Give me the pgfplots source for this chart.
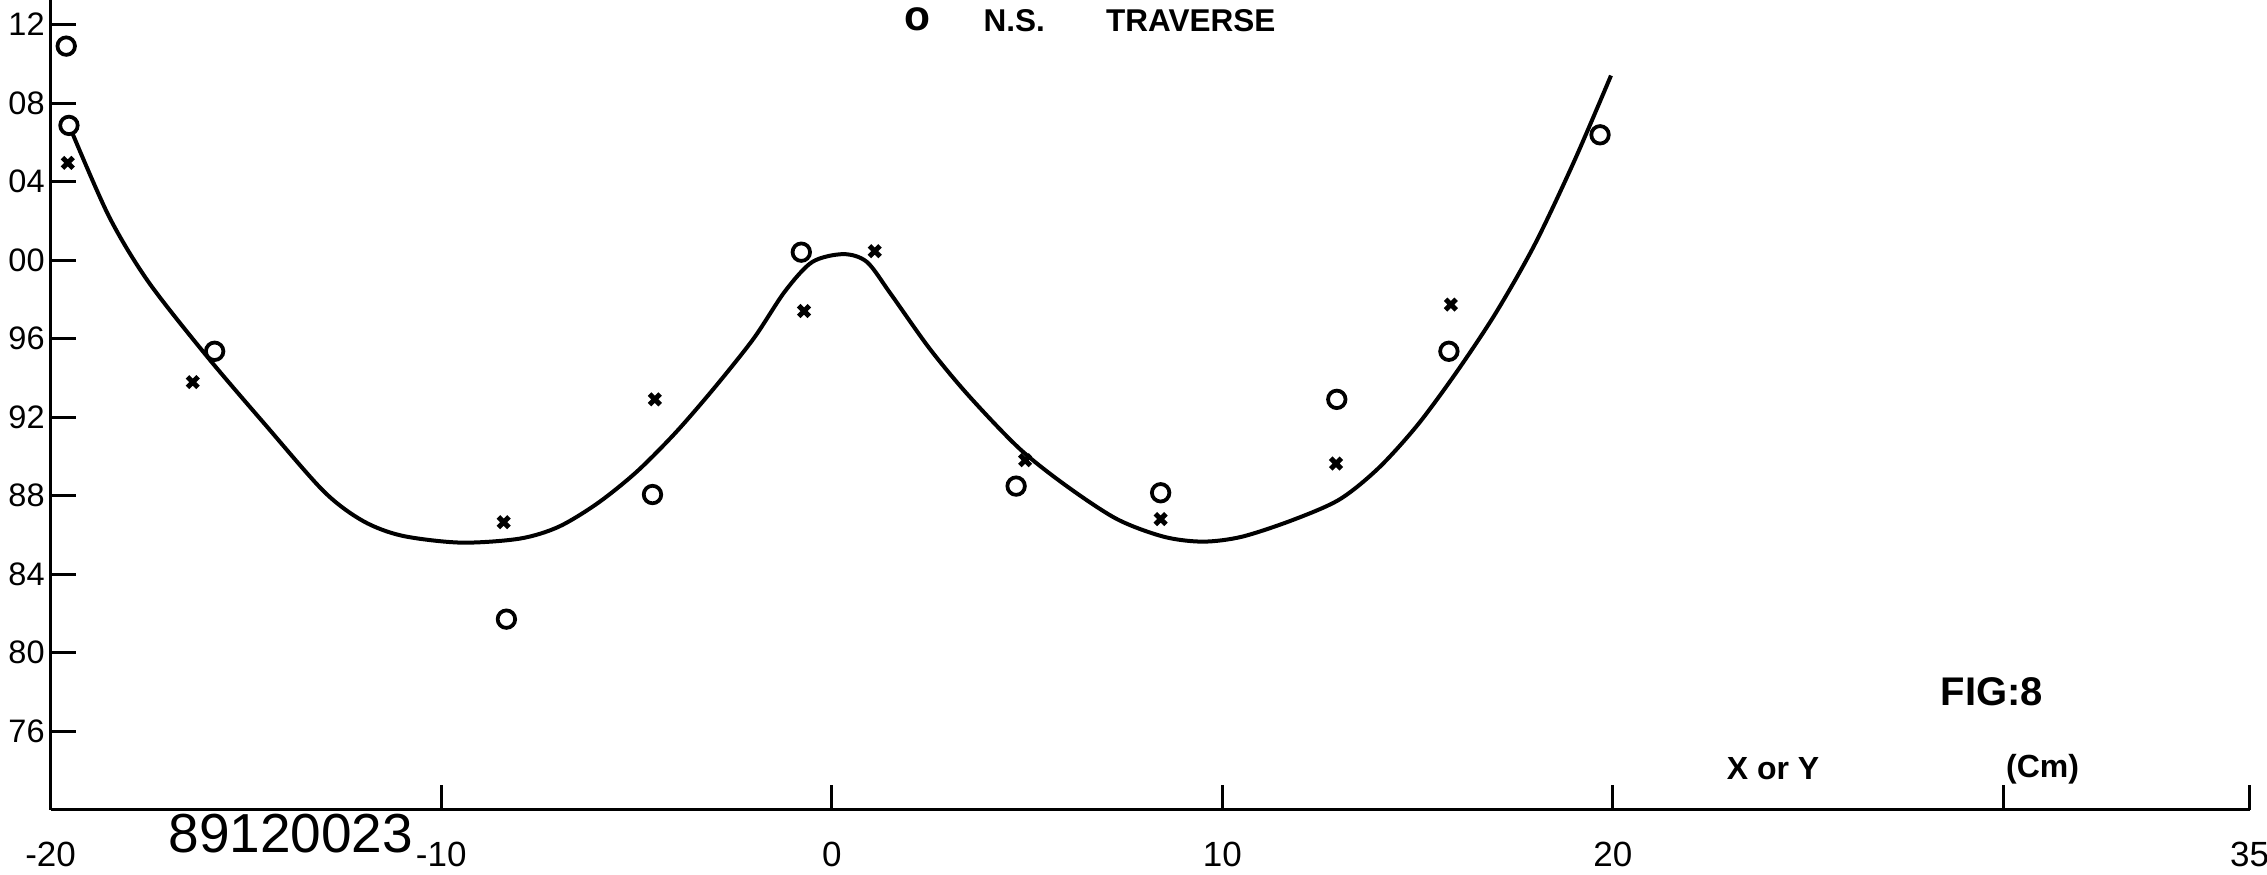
\documentclass[border=0pt]{standalone}
\usepackage{fontspec}
\setmainfont{Liberation Sans}
\usepackage{pgfplots}
\pgfplotsset{compat=1.18}
\begin{document}
\begin{tikzpicture}[x=1pt,y=1pt]
\path[use as bounding box] (0,0) rectangle (453.4,174.8);
\clip (0,0) rectangle (453.4,174.8);
\begin{axis}[
  at={(10.12pt,12.9pt)}, anchor=south west,
  scale only axis, width=439.8pt, height=161.9pt,
  xmin=-20, xmax=36.3, ymin=0.72, ymax=1.1325,
  axis x line=bottom, axis y line=left,
  axis line style={-, line width=0.7pt},
  tick align=inside, major tick length=5pt,
  tick style={line width=0.6pt, black},
  xtick={-20,-10,0,10,20,30,36.3},
  xticklabels={-20,-10,0,10,20,,35},
  ytick={0.76,0.80,0.84,0.88,0.92,0.96,1.00,1.04,1.08,1.12},
  yticklabels={76,80,84,88,92,96,00,04,08,12},
  /pgf/number format/assume math mode=true,
  xticklabel style={font=\fontsize{7}{7}\selectfont, yshift=-3pt},
  yticklabel style={font=\fontsize{6.5}{6.5}\selectfont, inner sep=1pt},
  clip=false,
]
% fitted curve
\addplot[black, line width=0.8pt, smooth, tension=0.5] coordinates {
(-19.45,1.065) (-18.5,1.022) (-17.5,0.989) (-16.0,0.951) (-14.5,0.916)
(-13.0,0.882) (-12.0,0.867) (-11.0,0.8595) (-9.5,0.856) (-8.0,0.858)
(-7.0,0.864) (-6.0,0.876) (-5.0,0.892) (-4.0,0.912) (-3.0,0.935)
(-2.0,0.960) (-1.2,0.984) (-0.5,0.999) (0.3,1.003) (0.9,0.999)
(1.5,0.983) (2.5,0.955) (3.5,0.931) (4.8,0.904) (6.0,0.885)
(7.3,0.868) (8.5,0.859) (9.5,0.8565) (10.5,0.859) (11.8,0.8675)
(13.0,0.878) (14.0,0.894) (15.0,0.916) (16.0,0.943) (17.0,0.973)
(18.0,1.008) (19.0,1.050) (19.95,1.094)
};
% N.S. traverse (circles)
\addplot[only marks, mark=o, mark size=1.75pt, line width=0.75pt, black] coordinates {
(-19.6,1.109) (-19.53,1.0686) (-15.8,0.9535) (-8.33,0.817) (-4.59,0.8805)
(-0.78,1.004) (4.72,0.8848) (8.42,0.8814) (12.93,0.929) (15.8,0.9535)
(19.67,1.0638)
};
% other traverse (crosses)
\addplot[only marks, mark=x, mark size=1.5pt, line width=1pt, black] coordinates {
(-19.56,1.0495) (-16.36,0.9378) (-8.4,0.8664) (-4.53,0.929) (-0.71,0.974)
(1.10,1.0045) (4.95,0.898) (8.42,0.868) (12.91,0.8963) (15.85,0.9773)
};
\node[font=\bfseries\fontsize{8.5}{8.5}\selectfont] at (axis cs:2.19,1.1225) {o};
\node[font=\bfseries\fontsize{6.3}{6.3}\selectfont] at (axis cs:4.67,1.122) {N.S.};
\node[font=\bfseries\fontsize{6.3}{6.3}\selectfont] at (axis cs:9.19,1.122) {TRAVERSE};
\node[font=\bfseries\fontsize{8}{8}\selectfont] at (axis cs:29.7,0.780) {FIG:8};
\node[font=\bfseries\fontsize{6.4}{6.4}\selectfont] at (axis cs:24.1,0.7406) {X or Y};
\node[font=\bfseries\fontsize{6.4}{6.4}\selectfont] at (axis cs:31.0,0.7406) {(Cm)};
\node[font=\fontsize{11}{11}\selectfont] at (axis cs:-13.85,0.7075) {89120023};
\end{axis}
\end{tikzpicture}
\end{document}
